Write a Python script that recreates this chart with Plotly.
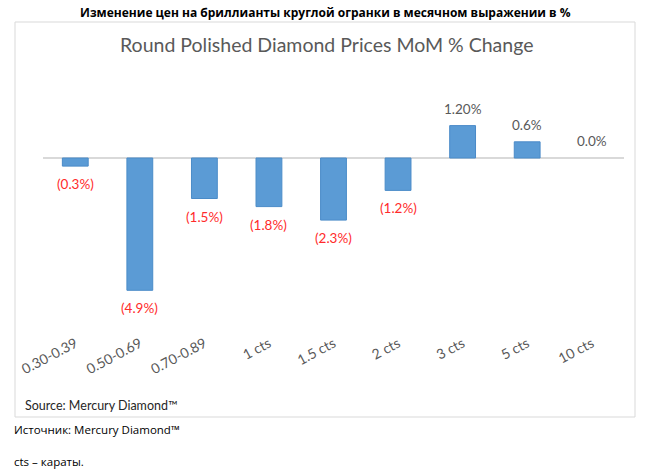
import plotly.graph_objects as go

categories = ["0.30-0.39", "0.50-0.69", "0.70-0.89", "1 cts", "1.5 cts", "2 cts", "3 cts", "5 cts", "10 cts"]
values = [-0.3, -4.9, -1.5, -1.8, -2.3, -1.2, 1.2, 0.6, 0.0]
value_labels = ["(0.3%)", "(4.9%)", "(1.5%)", "(1.8%)", "(2.3%)", "(1.2%)", "1.20%", "0.6%", "0.0%"]

W, H = 650, 474
ML, MR, MT, MB = 43, 26, 77, 154
PW, PH = W - ML - MR, H - MT - MB

def px(x):
    return (x - ML) / PW

def py(y):
    return (H - MB - y) / PH

font_main = "Lato, Calibri, 'Open Sans', sans-serif"
line_widths = [0 if v == 0 else 1 for v in values]

fig = go.Figure()
fig.add_trace(go.Bar(
    x=categories, y=values,
    marker=dict(color="#5B9BD5", line=dict(color="#4A8BC8", width=line_widths)),
    hoverinfo="skip",
))

annotations = []
for c, v, lab in zip(categories, values, value_labels):
    neg = v < 0
    annotations.append(dict(
        x=c, y=v, xref="x", yref="y", text=lab, showarrow=False,
        xanchor="center", yanchor="top" if neg else "bottom",
        yshift=-8 if neg else 7,
        font=dict(family=font_main, size=13.5, color="#FF2B2B" if neg else "#595959"),
    ))

annotations += [
    dict(text="<b>Изменение цен на бриллианты круглой огранки в месячном выражении в %</b>",
         xref="paper", yref="paper", x=px(325), y=py(12), xanchor="center", yanchor="middle",
         showarrow=False, font=dict(family="'Open Sans', Lato, sans-serif", size=12, color="black")),
    dict(text="Round Polished Diamond Prices MoM % Change",
         xref="paper", yref="paper", x=px(326), y=py(45), xanchor="center", yanchor="middle",
         showarrow=False, font=dict(family=font_main, size=19.5, color="#595959")),
    dict(text="Source: Mercury Diamond™",
         xref="paper", yref="paper", x=px(23), y=py(405), xanchor="left", yanchor="middle",
         showarrow=False, font=dict(family=font_main, size=12.5, color="#262626")),
    dict(text="Источник: Mercury Diamond™",
         xref="paper", yref="paper", x=px(12), y=py(429), xanchor="left", yanchor="middle",
         showarrow=False, font=dict(family="'Open Sans', Lato, sans-serif", size=11.5, color="black")),
    dict(text="cts – караты.",
         xref="paper", yref="paper", x=px(12), y=py(461), xanchor="left", yanchor="middle",
         showarrow=False, font=dict(family="'Open Sans', Lato, sans-serif", size=11.5, color="black")),
]

fig.update_layout(
    width=W, height=H,
    margin=dict(l=ML, r=MR, t=MT, b=MB, pad=0),
    paper_bgcolor="white", plot_bgcolor="white",
    showlegend=False, bargap=0.6,
    font=dict(family=font_main),
    xaxis=dict(
        type="category", showgrid=False, showline=False, ticks="",
        tickangle=-28, ticklabelstandoff=12,
        tickfont=dict(family=font_main, size=14, color="#595959"),
        fixedrange=True,
    ),
    yaxis=dict(
        range=[-6, 3], showgrid=False, showticklabels=False, ticks="",
        zeroline=True, zerolinecolor="#D9D9D9", zerolinewidth=1.5,
        fixedrange=True,
    ),
    shapes=[dict(
        type="rect", xref="paper", yref="paper",
        x0=px(15), x1=px(635), y0=py(417), y1=py(22),
        line=dict(color="#D9D9D9", width=1), fillcolor="rgba(0,0,0,0)", layer="below",
    )],
    annotations=annotations,
)

fig.write_html("out.html", config={"displayModeBar": False, "staticPlot": True},
               post_script="document.body.style.margin='0';document.body.style.overflow='hidden';")
